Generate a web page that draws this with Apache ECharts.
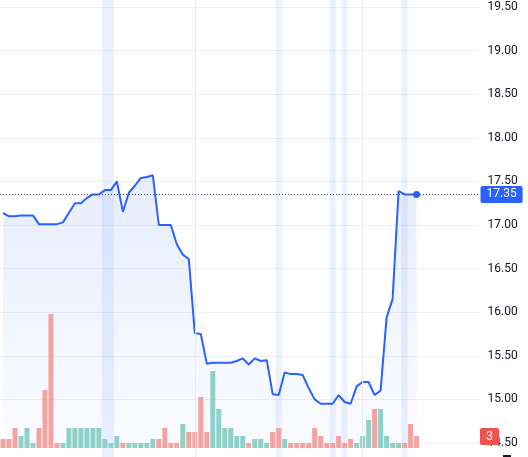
<!DOCTYPE html>
<html><head><meta charset="utf-8">
<script src="https://cdn.jsdelivr.net/npm/echarts@6/dist/echarts.min.js"></script>
<style>html,body{margin:0;padding:0;background:#fff;}#c{width:528px;height:457px;}</style>
</head><body><div id="c"></div>
<script>
const categories = Array.from({length: 70}, (_, i) => 'D' + (i + 1));
const closePrices = [
  17.14, 17.10, 17.10, 17.11, 17.11, 17.11, 17.01, 17.01, 17.01, 17.01,
  17.03, 17.14, 17.25, 17.25, 17.31, 17.35, 17.35, 17.40, 17.40, 17.50,
  17.15, 17.37, 17.45, 17.54, 17.55, 17.57, 17.00, 17.00, 17.00, 16.78,
  16.66, 16.61, 15.76, 15.75, 15.41, 15.42, 15.42, 15.42, 15.42, 15.44,
  15.47, 15.40, 15.47, 15.44, 15.45, 15.06, 15.05, 15.31, 15.29, 15.29,
  15.28, 15.13, 15.00, 14.95, 14.95, 14.95, 15.05, 14.97, 14.95, 15.15,
  15.20, 15.20, 15.05, 15.10, 15.94, 16.15, 17.39, 17.35, 17.35, 17.35
];
const volumes = [
  9, 9, 20, 12, 20, 5, 20, 58, 134, 5,
  5, 20, 20, 20, 20, 20, 20, 9, 5, 12,
  5, 5, 5, 5, 5, 9, 9, 20, 5, 5,
  24, 16, 16, 51, 16, 77, 39, 20, 20, 12,
  12, 5, 9, 9, 5, 16, 20, 9, 5, 5,
  5, 5, 20, 12, 5, 5, 12, 5, 9, 5,
  12, 28, 39, 39, 12, 5, 5, 5, 24, 12
];
const volumeDirection = [
  'd','d','d','u','u','u','d','d','d','d',
  'u','u','u','u','u','u','u','u','u','u',
  'd','u','u','u','u','u','d','d','d','d',
  'u','d','d','d','d','u','u','u','u','u',
  'u','d','u','u','u','d','d','u','d','d',
  'd','d','d','d','d','d','d','d','d','u',
  'u','u','d','u','u','u','u','d','d','d'
];
const highlightedDays = [17, 18, 46, 55, 57, 67];
const monthStarts = [32, 60];
const priceMin = 14.5, priceMax = 19.5, priceStep = 0.5;
const lastPrice = 17.35;
const badgeText = '3';

const FONT = 'Roboto, "Liberation Sans", sans-serif';
const chart = echarts.init(document.getElementById('c'), null, {renderer: 'canvas'});
const axisMax = 79;
const mkX = (gi) => ({type: 'category', gridIndex: gi, data: categories, min: 0, max: axisMax, show: false, boundaryGap: true});

chart.setOption({
  animation: false,
  grid: [
    {left: -0.5, right: 48.5, top: 0, bottom: 0},
    {left: -0.5, right: 48.5, top: 7, bottom: 14},
    {left: -0.5, right: 48.5, bottom: 9, height: 150}
  ],
  xAxis: [mkX(0), mkX(1), mkX(2)],
  yAxis: [
    {type: 'value', gridIndex: 0, min: 0, max: 1, show: false},
    {type: 'value', gridIndex: 1, position: 'right', min: priceMin, max: priceMax, interval: priceStep,
      axisLine: {show: false}, axisTick: {show: false},
      axisLabel: {margin: 8, color: '#131722', fontSize: 12, fontFamily: FONT, formatter: v => v.toFixed(2)},
      splitLine: {show: true, lineStyle: {color: '#eef0f4', width: 1}}},
    {type: 'value', gridIndex: 2, min: 0, max: 150, show: false}
  ],
  series: [
    {
      type: 'bar', xAxisIndex: 0, yAxisIndex: 0, silent: true, z: 1,
      data: categories.map((_, i) => highlightedDays.includes(i) ? 1 : '-'),
      barWidth: '100%', barCategoryGap: 0,
      itemStyle: {color: 'rgba(41,98,255,0.085)'},
      markLine: {
        silent: true, symbol: ['none', 'none'], label: {show: false},
        lineStyle: {color: '#e8ebf0', width: 1, type: 'solid'},
        data: monthStarts.map(i => ({xAxis: i}))
      }
    },
    {
      type: 'line', xAxisIndex: 1, yAxisIndex: 1, z: 2,
      data: closePrices,
      showSymbol: true, symbol: 'circle',
      symbolSize: (v, p) => p.dataIndex === closePrices.length - 1 ? 7 : 0,
      itemStyle: {color: '#2962ff'},
      lineStyle: {color: '#2962ff', width: 2},
      areaStyle: {
        color: new echarts.graphic.LinearGradient(0, 0, 0, 1, [
          {offset: 0, color: 'rgba(41,98,255,0.16)'},
          {offset: 1, color: 'rgba(41,98,255,0.03)'}
        ])
      },
      markLine: {
        silent: true, symbol: ['none', 'none'],
        lineStyle: {color: '#45507a', width: 1, type: [1, 2]},
        label: {
          show: true, position: 'end', distance: 1,
          formatter: p => p.value.toFixed(2),
          backgroundColor: '#2962ff', color: '#ffffff', fontSize: 12, fontFamily: FONT,
          padding: [2, 6, 1, 6], lineHeight: 14, borderRadius: 2
        },
        data: [{yAxis: lastPrice}]
      }
    },
    {
      type: 'bar', xAxisIndex: 2, yAxisIndex: 2, z: 3,
      barWidth: 5,
      data: volumes.map((v, i) => ({value: v, itemStyle: {color: volumeDirection[i] === 'u' ? '#8fd1c9' : '#f3a3a2'}}))
    }
  ],
  graphic: [
    {type: 'rect', x: 480, y: 428, z: 100, shape: {width: 19, height: 17, r: 2}, style: {fill: '#ef5350'}},
    {type: 'text', x: 489.5, y: 437, z: 101, style: {text: badgeText, fill: '#ffffff', font: '12px ' + FONT, align: 'center', verticalAlign: 'middle'}},
    {type: 'rect', x: 503, y: 455, z: 100, shape: {width: 8, height: 2}, style: {fill: '#131722'}}
  ]
});
</script>
</body></html>
